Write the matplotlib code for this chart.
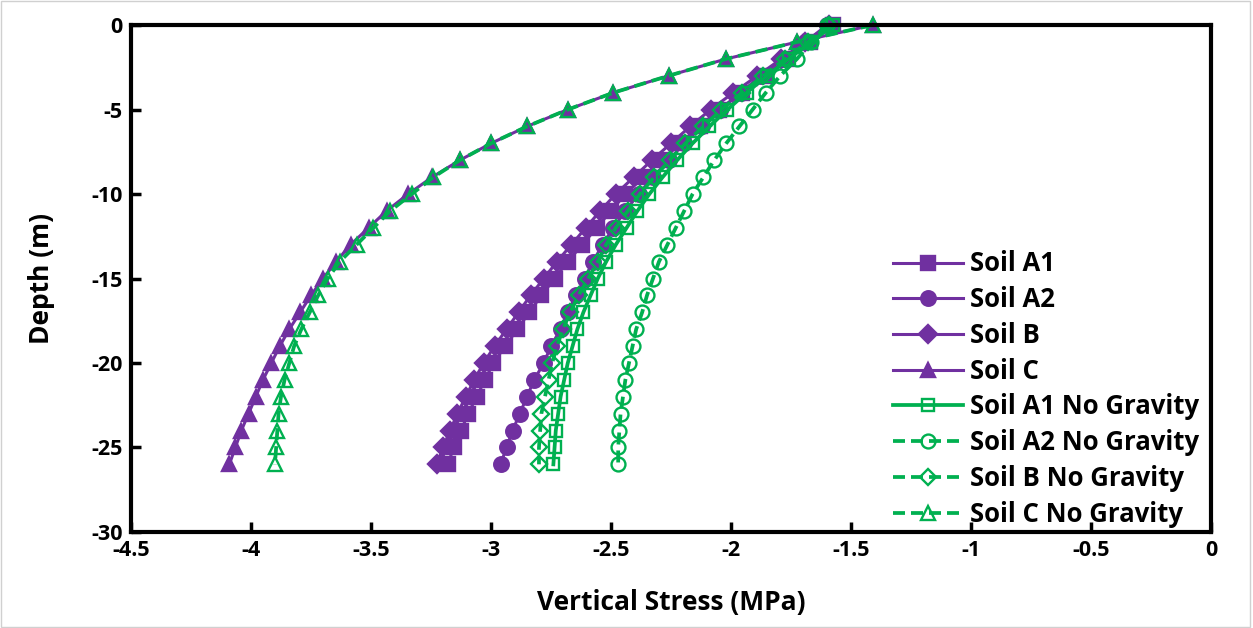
import matplotlib
matplotlib.use("Agg")
import matplotlib.pyplot as plt
from matplotlib.patches import Rectangle

plt.rcParams['font.family'] = ['Open Sans', 'DejaVu Sans']
plt.rcParams['axes.unicode_minus'] = False

depth = [0, -1, -2, -3, -4, -5, -6, -7, -8, -9, -10, -11, -12, -13,
         -14, -15, -16, -17, -18, -19, -20, -21, -22, -23, -24, -25, -26]

soil_a1 = [-1.575, -1.67, -1.765, -1.86, -1.955, -2.05, -2.13, -2.21, -2.29, -2.365,
           -2.44, -2.50, -2.56, -2.62, -2.68, -2.735, -2.79, -2.84, -2.89, -2.94,
           -2.99, -3.025, -3.06, -3.095, -3.125, -3.155, -3.18]
soil_a2 = [-1.60, -1.69, -1.785, -1.875, -1.96, -2.045, -2.12, -2.195, -2.26, -2.325,
           -2.385, -2.44, -2.49, -2.535, -2.575, -2.61, -2.645, -2.68, -2.71, -2.75,
           -2.78, -2.82, -2.85, -2.88, -2.91, -2.935, -2.96]
soil_b = [-1.59, -1.69, -1.79, -1.89, -1.99, -2.085, -2.17, -2.25, -2.33, -2.405,
          -2.48, -2.545, -2.605, -2.665, -2.725, -2.78, -2.835, -2.885, -2.935, -2.985,
          -3.03, -3.07, -3.105, -3.14, -3.17, -3.20, -3.225]
soil_c = [-1.41, -1.725, -2.02, -2.26, -2.49, -2.68, -2.85, -3.0, -3.13, -3.245,
          -3.345, -3.435, -3.51, -3.585, -3.645, -3.70, -3.75, -3.795, -3.84, -3.88,
          -3.915, -3.95, -3.98, -4.01, -4.04, -4.065, -4.09]
soil_a1_ng = [-1.575, -1.665, -1.76, -1.85, -1.935, -2.015, -2.09, -2.16, -2.225, -2.285,
              -2.34, -2.39, -2.435, -2.48, -2.52, -2.555, -2.585, -2.615, -2.64, -2.66,
              -2.68, -2.695, -2.71, -2.72, -2.73, -2.735, -2.74]
soil_a2_ng = [-1.60, -1.665, -1.725, -1.795, -1.855, -1.91, -1.965, -2.02, -2.07, -2.115,
              -2.16, -2.195, -2.23, -2.265, -2.30, -2.325, -2.35, -2.37, -2.395, -2.41,
              -2.425, -2.44, -2.45, -2.46, -2.465, -2.47, -2.47]
soil_b_ng = [-1.59, -1.68, -1.775, -1.865, -1.955, -2.04, -2.115, -2.19, -2.255, -2.32,
             -2.38, -2.43, -2.48, -2.52, -2.555, -2.595, -2.635, -2.67, -2.70, -2.725,
             -2.745, -2.76, -2.775, -2.79, -2.795, -2.80, -2.80]
soil_c_ng = [-1.41, -1.725, -2.02, -2.26, -2.49, -2.68, -2.85, -3.0, -3.13, -3.24,
             -3.33, -3.42, -3.49, -3.56, -3.63, -3.68, -3.72, -3.755, -3.79, -3.82,
             -3.84, -3.86, -3.875, -3.885, -3.89, -3.895, -3.90]

labels = ["Soil A1", "Soil A2", "Soil B", "Soil C",
          "Soil A1 No Gravity", "Soil A2 No Gravity", "Soil B No Gravity", "Soil C No Gravity"]
x_ticks = [-4.5, -4, -3.5, -3, -2.5, -2, -1.5, -1, -0.5, 0]
x_tick_labels = ["-4.5", "-4", "-3.5", "-3", "-2.5", "-2", "-1.5", "-1", "-0.5", "0"]
y_ticks = [-30, -25, -20, -15, -10, -5, 0]

purple = '#7030A0'
green = '#00B050'

fig = plt.figure(figsize=(12.53, 6.28), dpi=100)
ax = fig.add_axes([0.1045, 0.153, 0.862, 0.807])

dash = (0, (3.2, 1.6))
series = [
    (soil_a1, purple, 's', '-', purple, 9.5),
    (soil_a2, purple, 'o', '-', purple, 10.5),
    (soil_b, purple, 'D', '-', purple, 9),
    (soil_c, purple, '^', '-', purple, 10.5),
    (soil_a1_ng, green, 's', '-', 'none', 9),
    (soil_a2_ng, green, 'o', dash, 'none', 10),
    (soil_b_ng, green, 'D', dash, 'none', 8.5),
    (soil_c_ng, green, '^', dash, 'none', 10),
]
for (vals, col, mk, ls, fc, ms), lab in zip(series, labels):
    lw = 2.2 if col == purple else 2.7
    ax.plot(vals, depth, color=col, linestyle=ls, linewidth=lw, marker=mk,
            markersize=ms, markerfacecolor=fc, markeredgecolor=col,
            markeredgewidth=1.7, label=lab, clip_on=False)

ax.set_xlim(-4.5, 0)
ax.set_ylim(-30, 0)
ax.set_xticks(x_ticks)
ax.set_xticklabels(x_tick_labels)
ax.set_yticks(y_ticks)
for sp in ax.spines.values():
    sp.set_linewidth(3)
    sp.set_color('black')
ax.tick_params(direction='in', length=7, width=2.5, labelsize=15.5, pad=6)
for t in ax.get_xticklabels() + ax.get_yticklabels():
    t.set_fontweight('bold')
ax.set_xlabel("Vertical Stress (MPa)", fontsize=19, fontweight='bold', labelpad=20)
ax.set_ylabel("Depth (m)", fontsize=19, fontweight='bold', labelpad=26)

leg = ax.legend(loc='lower right', bbox_to_anchor=(1.003, -0.022), frameon=False,
                prop={'weight': 'bold', 'size': 18.5}, handlelength=2.75,
                labelspacing=0.34, handletextpad=0.25, borderaxespad=0.2)

fig.patches.append(Rectangle((0.001, 0.002), 0.997, 0.996, transform=fig.transFigure,
                             fill=False, edgecolor='#d0d0d0', linewidth=1))

fig.savefig("out.png", dpi=100)
